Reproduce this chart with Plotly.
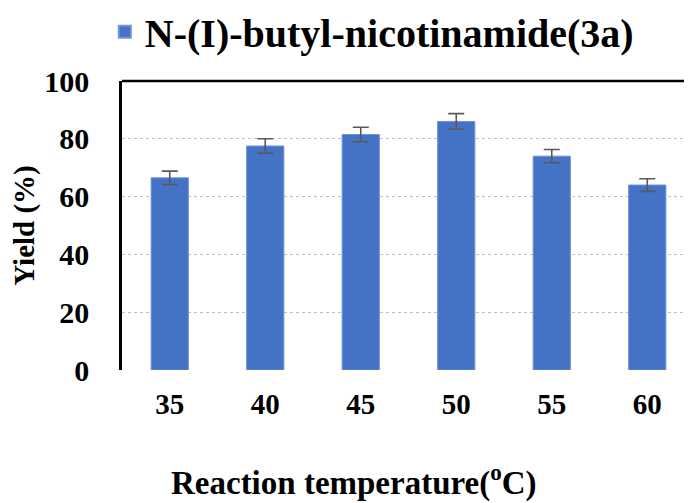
import plotly.graph_objects as go

temps = ["35", "40", "45", "50", "55", "60"]
yields = [66.5, 77.5, 81.5, 86, 74, 64]
errors = [2.3, 2.5, 2.5, 2.7, 2.3, 2.2]

FONT = "Times New Roman"


def f(size):
    return dict(family=FONT, size=size, color="black", weight="bold")


fig = go.Figure(go.Bar(
    x=temps, y=yields,
    name="N-(I)-butyl-nicotinamide(3a)",
    marker=dict(color="#4472C4", line=dict(color="#6f93d8", width=1)),
    error_y=dict(type="data", array=errors, color="#595959", thickness=1.6, width=8),
))

# black frame on top (left/right come from the mirrored y axis)
fig.add_shape(type="line", xref="paper", yref="paper", x0=0, x1=1, y0=1, y1=1,
              line=dict(color="black", width=2.5))

# x title sits left of the plot centre in the original
fig.add_annotation(text="Reaction temperature(<sup>o</sup>C)", xref="paper", yref="paper",
                   x=0.405, y=-0.384, xanchor="center", yanchor="middle",
                   showarrow=False, font=f(33))

fig.update_layout(
    width=692, height=503,
    margin=dict(l=114, r=5, t=73, b=141, autoexpand=False),
    paper_bgcolor="white", plot_bgcolor="white",
    bargap=0.61,
    font=f(22),
    showlegend=True,
    legend=dict(orientation="h", x=0.436, xanchor="center", y=1.17, yanchor="middle",
                font=f(40), itemsizing="constant"),
    xaxis=dict(
        automargin=False,
        showline=False,
        ticks="", tickfont=f(29),
        ticklabelstandoff=14,
    ),
    yaxis=dict(
        automargin=False,
        range=[0, 100], dtick=20,
        showline=True, mirror=True, linecolor="black", linewidth=2.5,
        showgrid=True, gridcolor="#bfbfbf", griddash="dot", gridwidth=1.3,
        zeroline=False, ticks="", tickfont=f(30),
        ticklabelstandoff=24,
        title=dict(text="Yield (%)", font=f(29), standoff=4),
    ),
)

fig.write_html("out.html")
